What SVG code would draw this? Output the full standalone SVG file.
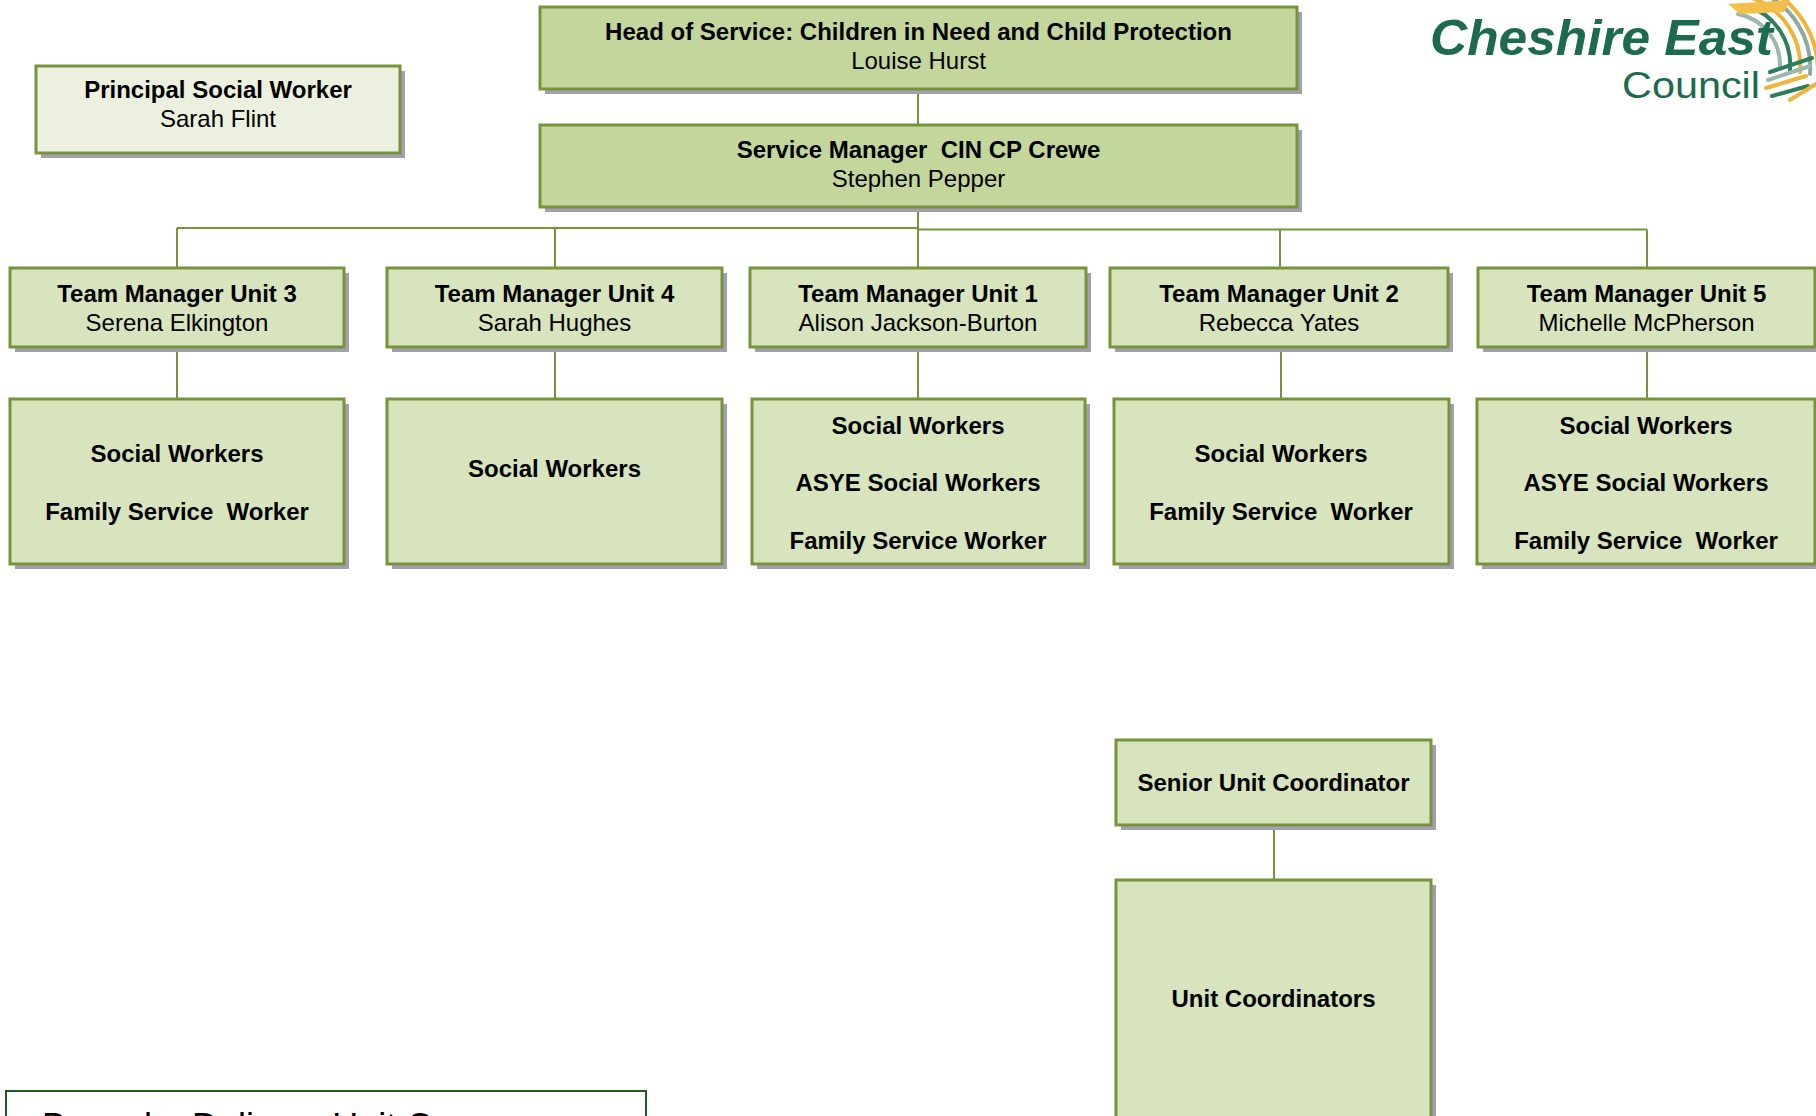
<svg xmlns="http://www.w3.org/2000/svg" width="1816" height="1116" viewBox="0 0 1816 1116">
<defs>
<style>
.box{stroke:#77933C;stroke-width:3}
.dark{fill:#C3D69B}
.mid{fill:#D7E4BD}
.light{fill:#EBF1DE}
.sh{fill:#A29FB1}
.conn{stroke:#77933C;stroke-width:2;fill:none}
text{font-family:"Liberation Sans",Arial,sans-serif;font-size:24px;fill:#000;text-anchor:middle}
.b{font-weight:bold}
</style>
</defs>
<rect width="1816" height="1116" fill="#fff"/>

<g id="connectors">
<line class="conn" x1="918" y1="89" x2="918" y2="125"/>
<line class="conn" x1="918" y1="207" x2="918" y2="268"/>
<line class="conn" x1="177" y1="228" x2="918" y2="228"/>
<line class="conn" x1="918" y1="229.5" x2="1647" y2="229.5"/>
<line class="conn" x1="177" y1="228" x2="177" y2="268"/>
<line class="conn" x1="555" y1="228" x2="555" y2="268"/>
<line class="conn" x1="1280" y1="229.5" x2="1280" y2="268"/>
<line class="conn" x1="1647" y1="229.5" x2="1647" y2="268"/>
<line class="conn" x1="177" y1="347" x2="177" y2="399"/>
<line class="conn" x1="555" y1="347" x2="555" y2="399"/>
<line class="conn" x1="918" y1="347" x2="918" y2="399"/>
<line class="conn" x1="1281" y1="347" x2="1281" y2="399"/>
<line class="conn" x1="1647" y1="347" x2="1647" y2="399"/>
<line class="conn" x1="1274" y1="825" x2="1274" y2="880"/>
</g>

<g id="principal">
<rect class="sh" x="41" y="71" width="364" height="87"/>
<rect class="box light" x="36" y="66" width="364" height="87"/>
<text class="b" x="218" y="98">Principal Social Worker</text>
<text x="218" y="127">Sarah Flint</text>
</g>

<g id="head">
<rect class="sh" x="545" y="12" width="757" height="82"/>
<rect class="box dark" x="540" y="7" width="757" height="82"/>
<text class="b" x="918.5" y="40">Head of Service: Children in Need and Child Protection</text>
<text x="918.5" y="69">Louise Hurst</text>
</g>

<g id="service">
<rect class="sh" x="545" y="130" width="757" height="82"/>
<rect class="box dark" x="540" y="125" width="757" height="82"/>
<text class="b" x="918.5" y="158" xml:space="preserve">Service Manager  CIN CP Crewe</text>
<text x="918.5" y="187">Stephen Pepper</text>
</g>

<g id="tm3">
<rect class="sh" x="15" y="273" width="334" height="79"/>
<rect class="box mid" x="10" y="268" width="334" height="79"/>
<text class="b" x="177" y="302">Team Manager Unit 3</text>
<text x="177" y="331">Serena Elkington</text>
</g>
<g id="tm4">
<rect class="sh" x="392" y="273" width="335" height="79"/>
<rect class="box mid" x="387" y="268" width="335" height="79"/>
<text class="b" x="554.5" y="302">Team Manager Unit 4</text>
<text x="554.5" y="331">Sarah Hughes</text>
</g>
<g id="tm1">
<rect class="sh" x="755" y="273" width="336" height="79"/>
<rect class="box mid" x="750" y="268" width="336" height="79"/>
<text class="b" x="918" y="302">Team Manager Unit 1</text>
<text x="918" y="331">Alison Jackson-Burton</text>
</g>
<g id="tm2">
<rect class="sh" x="1115" y="273" width="338" height="79"/>
<rect class="box mid" x="1110" y="268" width="338" height="79"/>
<text class="b" x="1279" y="302">Team Manager Unit 2</text>
<text x="1279" y="331">Rebecca Yates</text>
</g>
<g id="tm5">
<rect class="sh" x="1483" y="273" width="337" height="79"/>
<rect class="box mid" x="1478" y="268" width="337" height="79"/>
<text class="b" x="1646.5" y="302">Team Manager Unit 5</text>
<text x="1646.5" y="331">Michelle McPherson</text>
</g>

<g id="sw3">
<rect class="sh" x="15" y="404" width="334" height="165"/>
<rect class="box mid" x="10" y="399" width="334" height="165"/>
<text class="b" x="177" y="462">Social Workers</text>
<text class="b" x="177" y="520" xml:space="preserve">Family Service  Worker</text>
</g>
<g id="sw4">
<rect class="sh" x="392" y="404" width="335" height="165"/>
<rect class="box mid" x="387" y="399" width="335" height="165"/>
<text class="b" x="554.5" y="477">Social Workers</text>
</g>
<g id="sw1">
<rect class="sh" x="757" y="404" width="333" height="165"/>
<rect class="box mid" x="752" y="399" width="333" height="165"/>
<text class="b" x="918" y="434">Social Workers</text>
<text class="b" x="918" y="491">ASYE Social Workers</text>
<text class="b" x="918" y="549">Family Service Worker</text>
</g>
<g id="sw2">
<rect class="sh" x="1119" y="404" width="335" height="165"/>
<rect class="box mid" x="1114" y="399" width="335" height="165"/>
<text class="b" x="1281" y="462">Social Workers</text>
<text class="b" x="1281" y="520" xml:space="preserve">Family Service  Worker</text>
</g>
<g id="sw5">
<rect class="sh" x="1482" y="404" width="338" height="165"/>
<rect class="box mid" x="1477" y="399" width="338" height="165"/>
<text class="b" x="1646" y="434">Social Workers</text>
<text class="b" x="1646" y="491">ASYE Social Workers</text>
<text class="b" x="1646" y="549" xml:space="preserve">Family Service  Worker</text>
</g>

<g id="senior">
<rect class="sh" x="1121" y="745" width="315" height="85"/>
<rect class="box mid" x="1116" y="740" width="315" height="85"/>
<text class="b" x="1273.5" y="791">Senior Unit Coordinator</text>
</g>
<g id="coordinators">
<rect class="sh" x="1121" y="885" width="315" height="250"/>
<rect class="box mid" x="1116" y="880" width="315" height="250"/>
<text class="b" x="1273.5" y="1007">Unit Coordinators</text>
</g>

<g id="bespoke">
<rect x="6" y="1091" width="640" height="60" fill="#fff" stroke="#1F5B25" stroke-width="2"/>
<text x="42" y="1139" style="font-size:36px;text-anchor:start">Bespoke Delivery Unit Crewe</text>
</g>

<g id="logo">
<g fill="none" stroke-width="4" stroke-linecap="round">
<path d="M1748 6 A62 62 0 0 1 1790 70" stroke="#2E7D5B"/>
<path d="M1752 -2 A72 72 0 0 1 1800 72" stroke="#F0B43A"/>
<path d="M1760 -8 A82 82 0 0 1 1810 74" stroke="#8FA8A0"/>
<path d="M1770 -10 A92 92 0 0 1 1818 70" stroke="#F0B43A"/>
<path d="M1738 14 A52 52 0 0 1 1780 66" stroke="#9DB7AE"/>
<path d="M1770 72 L1812 58" stroke="#2E7D5B"/>
<path d="M1768 80 L1810 66" stroke="#9DB7AE"/>
<path d="M1766 88 L1806 76" stroke="#F0B43A"/>
<path d="M1772 96 L1808 86" stroke="#2E7D5B"/>
<path d="M1790 100 L1816 84" stroke="#F0B43A"/>
</g>
<path d="M1728 4 L1790 0 L1784 12 L1740 14 Z" fill="#F2C04A"/>
<text x="1430" y="55" textLength="343" lengthAdjust="spacingAndGlyphs" style="font-size:50px;font-weight:bold;font-style:italic;fill:#1B6B4C;text-anchor:start">Cheshire East</text>
<text x="1622" y="98" textLength="138" lengthAdjust="spacingAndGlyphs" style="font-size:36px;fill:#1B6B4C;text-anchor:start">Council</text>
</g>
</svg>
